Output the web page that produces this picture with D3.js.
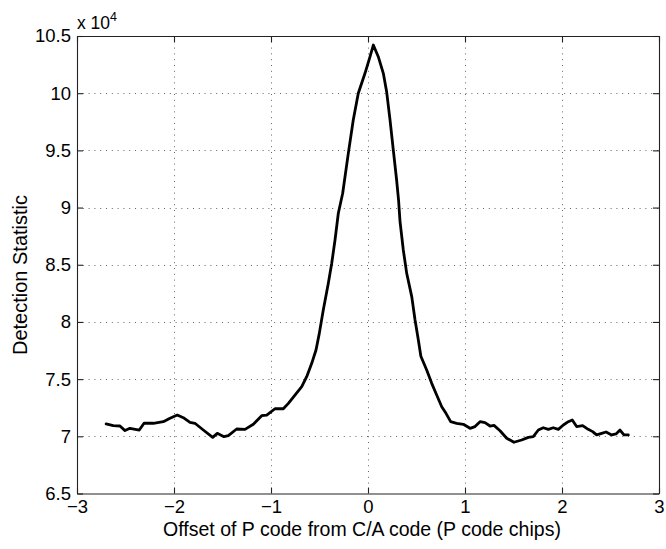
<!DOCTYPE html>
<html>
<head>
<meta charset="utf-8">
<script src="https://cdn.jsdelivr.net/npm/d3@7"></script>
<style>
  html, body { margin: 0; padding: 0; background: #fff; }
  svg { display: block; font-family: "Liberation Sans", Arial, Helvetica, sans-serif; }
</style>
</head>
<body>
<svg id="chart" width="666" height="549"></svg>
<script>
// Data (y in units of 10^4)
const offsets = [-2.70,-2.626,-2.557,-2.505,-2.454,-2.358,-2.309,-2.213,-2.11,-2.041,-1.966,-1.904,-1.835,-1.784,-1.698,-1.601,-1.554,-1.485,-1.44,-1.354,-1.268,-1.182,-1.096,-1.044,-0.959,-0.873,-0.821,-0.753,-0.683,-0.632,-0.58,-0.536,-0.502,-0.461,-0.409,-0.374,-0.340,-0.306,-0.275,-0.261,-0.203,-0.152,-0.1,-0.031,0.021,0.055,0.106,0.158,0.192,0.227,0.261,0.295,0.315,0.33,0.364,0.399,0.451,0.485,0.519,0.545,0.605,0.657,0.708,0.76,0.804,0.852,0.914,0.983,1.052,1.103,1.155,1.206,1.258,1.299,1.361,1.43,1.505,1.584,1.653,1.704,1.756,1.807,1.859,1.91,1.962,2.014,2.065,2.106,2.151,2.213,2.27,2.316,2.357,2.409,2.454,2.512,2.557,2.598,2.639,2.684];
const detection = [7.108,7.093,7.09,7.05,7.07,7.055,7.114,7.114,7.128,7.158,7.186,7.163,7.122,7.114,7.055,6.991,7.026,6.997,7.006,7.064,7.061,7.105,7.18,7.185,7.241,7.241,7.288,7.361,7.434,7.521,7.638,7.755,7.9,8.104,8.338,8.513,8.716,8.95,9.07,9.125,9.474,9.766,9.999,10.174,10.319,10.421,10.319,10.174,10.013,9.766,9.503,9.241,9.066,8.88,8.629,8.425,8.221,8.017,7.842,7.70,7.58,7.463,7.361,7.259,7.201,7.128,7.114,7.105,7.07,7.085,7.128,7.119,7.09,7.096,7.049,6.983,6.948,6.968,6.991,6.997,7.055,7.075,7.061,7.075,7.061,7.099,7.128,7.143,7.085,7.093,7.061,7.041,7.012,7.026,7.038,7.012,7.021,7.055,7.012,7.012];
const xTicks = [-3,-2,-1,0,1,2,3];
const yTicks = [6.5,7,7.5,8,8.5,9,9.5,10,10.5];
const xLabel = "Offset of P code from C/A code (P code chips)";
const yLabel = "Detection Statistic";

const svg = d3.select("#chart");
const L = 77, T = 36, R = 659, B = 493.5;
const x = d3.scaleLinear().domain([-3, 3]).range([L, R]);
const y = d3.scaleLinear().domain([6.5, 10.5]).range([B, T]);

const fmtX = d => (d < 0 ? "\u2212" + Math.abs(d) : String(d));
const fmtY = d => String(d);

// Grid
const grid = svg.append("g").attr("stroke", "#555").attr("stroke-width", 0.9)
  .attr("stroke-dasharray", "1,4.8");
grid.selectAll(".gx").data(xTicks.slice(1, -1)).join("line")
  .attr("x1", d => Math.round(x(d)) + 0.5).attr("x2", d => Math.round(x(d)) + 0.5)
  .attr("y1", T).attr("y2", B);
grid.selectAll(".gy").data(yTicks.slice(1, -1)).join("line")
  .attr("y1", d => Math.round(y(d)) + 0.5).attr("y2", d => Math.round(y(d)) + 0.5)
  .attr("x1", L).attr("x2", R);

// Axes (ticks inward)
const tickLen = 6;
const axB = svg.append("g").attr("transform", `translate(0,${B})`)
  .call(d3.axisBottom(x).tickValues(xTicks).tickSizeInner(-tickLen).tickSizeOuter(0).tickPadding(6.5).tickFormat(fmtX));
const axT = svg.append("g").attr("transform", `translate(0,${T})`)
  .call(d3.axisTop(x).tickValues(xTicks).tickSizeInner(-tickLen).tickSizeOuter(0).tickFormat(""));
const axL = svg.append("g").attr("transform", `translate(${L},0)`)
  .call(d3.axisLeft(y).tickValues(yTicks).tickSizeInner(-tickLen).tickSizeOuter(0).tickPadding(6).tickFormat(fmtY));
const axR = svg.append("g").attr("transform", `translate(${R},0)`)
  .call(d3.axisRight(y).tickValues(yTicks).tickSizeInner(-tickLen).tickSizeOuter(0).tickFormat(""));
[axB, axT, axL, axR].forEach(a => {
  a.selectAll("path.domain").attr("stroke", "#222").attr("stroke-width", 1.1);
  a.selectAll(".tick line").attr("stroke", "#222").attr("stroke-width", 1.1);
  a.selectAll("text").attr("font-size", 18.5).attr("fill", "#000")
    .attr("font-family", '"Liberation Sans", Arial, sans-serif');
});
axB.selectAll("text").attr("dy", "0.71em");

// Line
const line = d3.line().x((d, i) => x(offsets[i])).y(d => y(d));
svg.append("path").datum(detection)
  .attr("fill", "none").attr("stroke", "#000").attr("stroke-width", 2.8)
  .attr("stroke-linejoin", "round").attr("stroke-linecap", "round")
  .attr("d", line);

// Labels
svg.append("text").attr("x", 362).attr("y", 536)
  .attr("text-anchor", "middle").attr("font-size", 19.5).text(xLabel);
svg.append("text").attr("transform", `translate(27,275) rotate(-90)`)
  .attr("text-anchor", "middle").attr("font-size", 20).text(yLabel);

// Multiplier
const mult = svg.append("text").attr("x", 77).attr("y", 28.5).attr("font-size", 17.5);
mult.append("tspan").text("x 10");
mult.append("tspan").attr("font-size", 12.5).attr("dy", -8).text("4");
</script>
</body>
</html>
